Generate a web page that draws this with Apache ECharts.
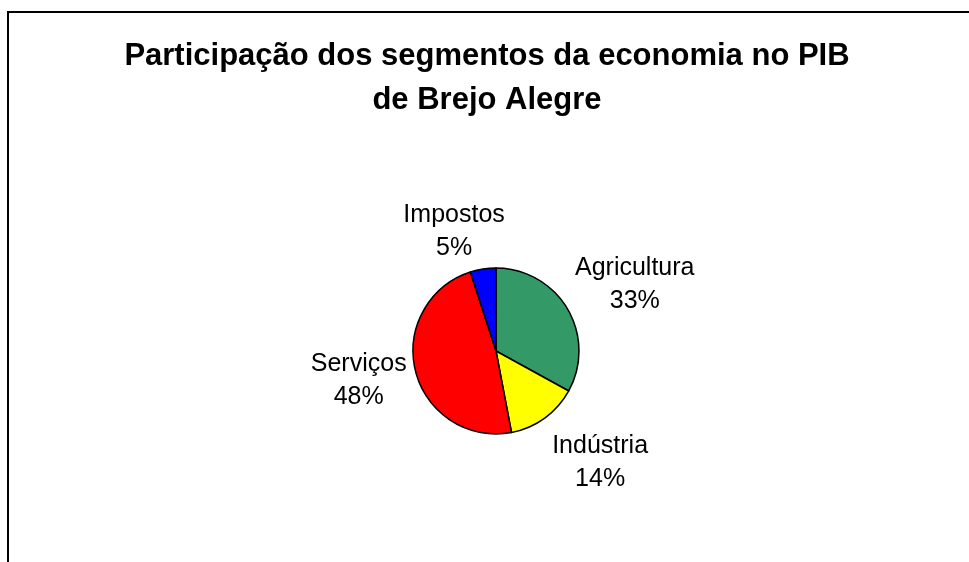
<!DOCTYPE html>
<html>
<head>
<meta charset="utf-8">
<title>PIB Brejo Alegre</title>
<script src="https://cdn.jsdelivr.net/npm/echarts@6/dist/echarts.min.js"></script>
<style>
  html, body { margin: 0; padding: 0; background: #fff; }
  #chart { width: 969px; height: 562px; }
</style>
</head>
<body>
<div id="chart"></div>
<script>
// segmentos do PIB, no sentido horario a partir do topo
var segmentos = ['Agricultura', 'Indústria', 'Serviços', 'Impostos'];
var participacao = [33, 14, 48, 5];
var cores = ['#339966', '#ffff00', '#ff0000', '#0000ff'];

// distancia dos rotulos (estilo apenas)
var linhaLen = [48, 55, 35, 38];
var linhaLen2 = [26, 23, 23, 23];

var myChart = echarts.init(document.getElementById('chart'));

var dados = segmentos.map(function (nome, i) {
  return {
    name: nome,
    value: participacao[i],
    itemStyle: { color: cores[i] },
    labelLine: { show: false, length: linhaLen[i], length2: linhaLen2[i] }
  };
});

var option = {
  animation: false,
  backgroundColor: '#fff',
  title: {
    text: 'Participação dos segmentos da economia no PIB\nde Brejo Alegre',
    left: 482,
    top: 29,
    textAlign: 'center',
    textStyle: {
      fontFamily: 'Liberation Sans, Arial, sans-serif',
      fontWeight: 'bold',
      fontSize: 31,
      lineHeight: 44,
      color: '#000'
    }
  },
  graphic: [{
    type: 'rect',
    shape: { x: 8, y: 12, width: 1000, height: 600 },
    style: { fill: 'none', stroke: '#000', lineWidth: 2 },
    silent: true
  }],
  series: [{
    type: 'pie',
    center: [496, 351],
    radius: 83,
    startAngle: 90,
    clockwise: true,
    avoidLabelOverlap: false,
    itemStyle: { borderColor: '#000', borderWidth: 1.5 },
    label: {
      show: true,
      position: 'outside',
      distanceToLabelLine: 0,
      formatter: '{b}\n{d}%',
      fontFamily: 'Liberation Sans, Arial, sans-serif',
      fontSize: 25,
      lineHeight: 33,
      color: '#000'
    },
    labelLine: { show: false },
    labelLayout: function () {
      return { align: 'center' };
    },
    emphasis: { disabled: true },
    data: dados
  }]
};

myChart.setOption(option);
</script>
</body>
</html>
